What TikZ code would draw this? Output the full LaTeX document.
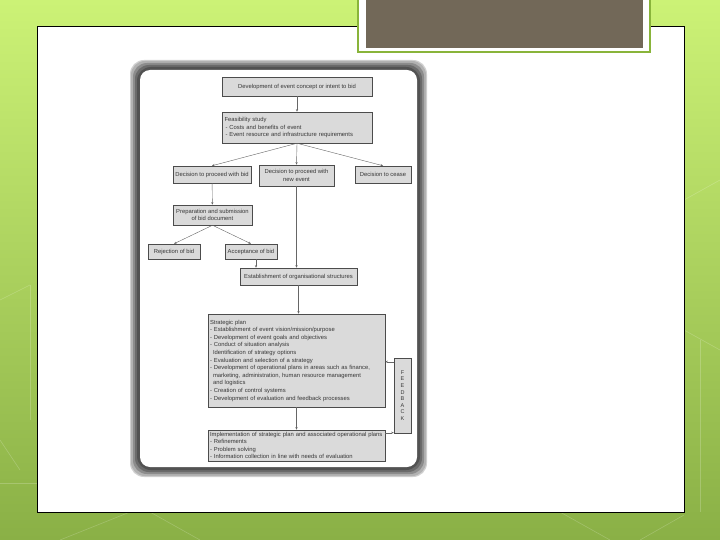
\documentclass[tikz,border=0pt]{standalone}
\usepackage{fontspec}
\setmainfont{Liberation Sans}
\usetikzlibrary{arrows.meta,shadows}
\definecolor{slidebrown}{RGB}{114,104,88}
\definecolor{slidegreen}{RGB}{137,180,58}
\definecolor{boxgray}{RGB}{218,218,218}
\definecolor{textgray}{RGB}{55,55,55}

\begin{document}
\begin{tikzpicture}[x=1pt,y=-1pt,
  stage/.style={draw=black!70, fill=boxgray, line width=0.5pt, inner sep=2.5pt,
    font=\fontsize{5.85}{7.6}\selectfont, text=textgray,
    drop shadow={shadow xshift=0.9pt, shadow yshift=-0.9pt, fill=black!65, opacity=0.9}},
  flow/.style={draw=black!60, line width=0.4pt, -{Stealth[length=2.6pt,width=2.2pt]}},
  hexline/.style={white, opacity=0.2, line width=0.6pt}]
  \useasboundingbox (0,0) rectangle (720,540);

  % slide background
  \shade[top color={rgb,255:red,204;green,242;blue,118}, bottom color={rgb,255:red,138;green,176;blue,70}]
    (0,0) rectangle (720,540);
  \foreach \a/\b/\c/\d in {0/300/30/285, 30/285/30/420, 0/483/37/483, 0/440/20/470,
    60/540/130/512, 150/512/200/540, 560/512/610/540, 640/540/684/515,
    684/200/720/180, 684/330/720/350, 700/340/700/512} {
   \draw[hexline] (\a,\b) -- (\c,\d);
  }
  \draw[black, line width=0.8pt, fill=white] (37,26) rectangle (684,512);

  % title box
  \draw[slidegreen, line width=2pt, fill=white] (358,-5) rectangle (650,52);
  \fill[slidebrown] (366,-5) rectangle (643,48);

  % photo frame
  \foreach \d/\c in {0/18,1/30,3/45,5/58,7/68} {
   \fill[black!\c, rounded corners=14pt] (130+\d,60+\d) rectangle (427-\d,477-\d);
  }
  \fill[white, rounded corners=10pt] (140,70) rectangle (417,467);

  % flow chart
  \node[stage, minimum width=150pt, minimum height=19pt] (concept) at (297,86.5)
    {Development of event concept or intent to bid};
  \node[stage, text width=145pt, minimum height=31pt, align=left] (feas) at (297,127.5)
    {Feasibility study\\
     \hspace*{1pt}- Costs and benefits of event\\
     \hspace*{1pt}- Event resource and infrastructure requirements};

  \node[stage, minimum width=78pt, minimum height=17pt, inner sep=1pt] (bid) at (212,174.5)
    {Decision to proceed with bid};
  \node[stage, minimum width=75pt, minimum height=21pt, align=center] (newev) at (296.5,175.5)
    {Decision to proceed with\\new event};
  \node[stage, minimum width=56pt, minimum height=17pt] (cease) at (383,174.5)
    {Decision to cease};

  \node[stage, minimum width=79pt, minimum height=20pt, inner sep=1pt, align=center] (prep) at (212.5,215)
    {Preparation and submission\\of bid document};
  \node[stage, minimum width=52pt, minimum height=15pt] (reject) at (174,251.5)
    {Rejection of bid};
  \node[stage, minimum width=52pt, minimum height=15pt] (accept) at (251,251.5)
    {Acceptance of bid};

  \node[stage, minimum width=117pt, minimum height=17pt] (orgs) at (298.5,276.5)
    {Establishment of organisational structures};

  \node[stage, text width=173pt, inner sep=2pt, minimum height=93pt, align=left] (strat) at (296.5,360.5)
    {Strategic plan\\
     - Establishment of event vision/mission/purpose\\
     - Development of event goals and objectives\\
     - Conduct of situation analysis\\
     \hspace*{3pt}Identification of strategy options\\
     - Evaluation and selection of a strategy\\
     - Development of operational plans in areas such as finance,\\
     \hspace*{3pt}marketing, administration, human resource management\\
     \hspace*{3pt}and logistics\\
     - Creation of control systems\\
     - Development of evaluation and feedback processes};

  \node[stage, text width=173pt, inner sep=2pt, minimum height=31pt, align=left] (impl) at (296.5,445.5)
    {Implementation of strategic plan and associated operational plans\\
     - Refinements\\
     - Problem solving\\
     - Information collection in line with needs of evaluation};

  \node[stage, minimum width=17pt, minimum height=75pt, inner sep=0pt, align=center,
    font=\fontsize{5.5}{6.6}\selectfont] (fback) at (402.5,395.5)
    {F\\E\\E\\D\\B\\A\\C\\K};

  \draw[flow] (concept) -- (feas);
  \draw[flow] (feas.south) -- (bid.north);
  \draw[flow] (feas.south) -- (newev.north);
  \draw[flow] (feas.south) -- (cease.north);
  \draw[flow] (bid) -- (prep);
  \draw[flow] (prep.south) -- (reject.north);
  \draw[flow] (prep.south) -- (accept.north);
  \draw[flow] ([xshift=5pt]accept.south) -- ([xshift=5pt]accept.south |- orgs.north);
  \draw[flow] (newev.south) -- (newev.south |- orgs.north);
  \draw[flow] (orgs) -- (orgs |- strat.north);
  \draw[flow] (strat.south) -- (strat.south |- impl.north);
  \draw[flow] ([yshift=-3pt]impl.north east) -- ([yshift=-3pt]impl.north east -| fback.west);
  \draw[flow] ([yshift=-4pt]fback.north west) -- ([yshift=-4pt]fback.north west -| strat.east);
 \end{tikzpicture}
\end{document}
